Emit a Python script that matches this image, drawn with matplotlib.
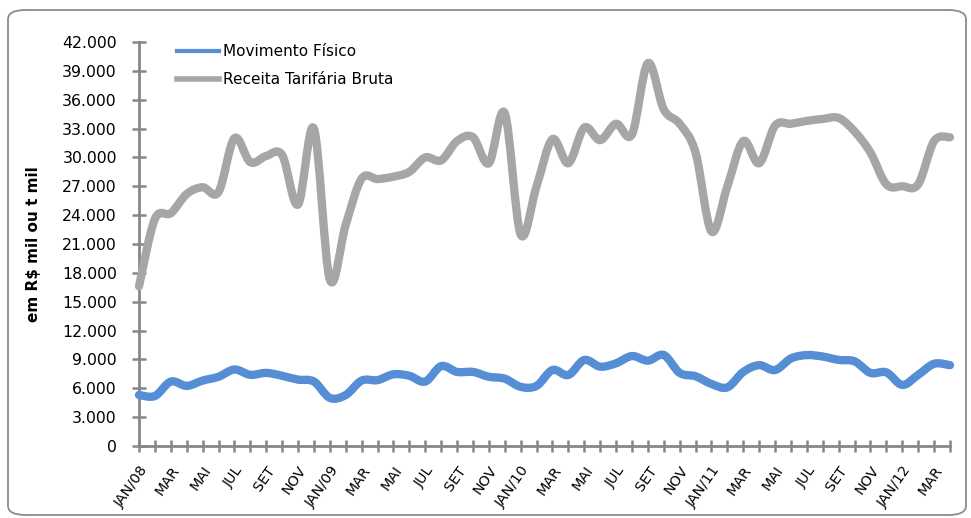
import matplotlib
matplotlib.use("Agg")
import matplotlib.pyplot as plt
from matplotlib.path import Path
from matplotlib.patches import PathPatch, FancyBboxPatch
from matplotlib.lines import Line2D
import numpy as np

# ---------------- data ----------------
months_pt = ["JAN", "FEV", "MAR", "ABR", "MAI", "JUN",
             "JUL", "AGO", "SET", "OUT", "NOV", "DEZ"]
years = ["08", "09", "10", "11", "12"]
categories = []
for y in years:
    for m in months_pt:
        categories.append(m + "/" + y if m == "JAN" else m)
categories = categories[:52]  # JAN/08 .. ABR/12

movimento_fisico = [5300, 5200, 6700, 6250, 6800, 7200, 7950, 7400, 7600, 7300,
                    6900, 6700, 5000, 5300, 6800, 6850, 7450, 7300, 6700, 8300,
                    7700, 7700, 7200, 7000, 6150, 6250, 7900, 7380, 8940, 8250,
                    8600, 9350, 8870, 9460, 7600, 7250, 6450, 6100, 7700, 8400,
                    7900, 9100, 9450, 9300, 8950, 8800, 7600, 7650, 6350, 7400,
                    8550, 8400]
receita_bruta = [16600, 23600, 24200, 26200, 26900, 26400, 32000, 29500, 30150, 30250,
                 25100, 33000, 17300, 23000, 27800, 27750, 28000, 28500, 30000, 29700,
                 31700, 32100, 29400, 34600, 22000, 27000, 31900, 29400, 33100, 31800,
                 33500, 32400, 39800, 35000, 33500, 30500, 22300, 27000, 31700, 29400,
                 33300, 33500, 33800, 34000, 34100, 32700, 30500, 27200, 27000, 27200,
                 31700, 32100]

series_names = ["Movimento Físico", "Receita Tarifária Bruta"]
series_colors = ["#558ED5", "#A6A6A6"]

y_ticks = list(range(0, 42001, 3000))


def fmt_br(v):
    return f"{v:,}".replace(",", ".")


def smooth_path(xs, ys):
    """Excel-style smoothed line as cubic Bezier path (data coords)."""
    pts = np.column_stack([xs, ys]).astype(float)
    n = len(pts)
    verts = [pts[0]]
    codes = [Path.MOVETO]
    for i in range(n - 1):
        p0 = pts[i - 1] if i > 0 else pts[i]
        p1 = pts[i]
        p2 = pts[i + 1]
        p3 = pts[i + 2] if i + 2 < n else pts[i + 1]
        c1 = p1 + (p2 - p0) / 6.0
        c2 = p2 - (p3 - p1) / 6.0
        verts += [c1, c2, p2]
        codes += [Path.CURVE4, Path.CURVE4, Path.CURVE4]
    return Path(verts, codes)


plt.rcParams["font.family"] = ["DejaVu Sans"]

W, H = 971, 518
fig = plt.figure(figsize=(W / 100, H / 100), dpi=100)

ax = fig.add_axes([139 / W, (H - 446) / H, 811 / W, 404 / H])
ax.set_facecolor("none")

x = np.arange(len(categories))
line_widths = [6.0, 6.0]
for vals, col, lw in zip([receita_bruta, movimento_fisico],
                         [series_colors[1], series_colors[0]],
                         [line_widths[1], line_widths[0]]):
    patch = PathPatch(smooth_path(x, vals), facecolor="none", edgecolor=col,
                      linewidth=lw, capstyle="round", joinstyle="round",
                      clip_on=False, zorder=3)
    ax.add_patch(patch)

ax.set_xlim(0, len(categories) - 1)
ax.set_ylim(0, 42000)

ax.set_yticks(y_ticks)
ax.set_yticklabels([fmt_br(v) for v in y_ticks], fontsize=11.3, color="black")
ax.set_xticks(x)
ax.set_xticklabels([c if i % 2 == 0 else "" for i, c in enumerate(categories)],
                   fontsize=10.3, rotation=55, ha="right", rotation_mode="anchor")

for s in ["top", "right"]:
    ax.spines[s].set_visible(False)
for s in ["left", "bottom"]:
    ax.spines[s].set_color("#878787")
    ax.spines[s].set_linewidth(2.0)

ax.tick_params(axis="y", direction="inout", length=10, width=1.8,
               color="#878787", pad=11)
ax.tick_params(axis="x", direction="inout", length=9, width=1.8,
               color="#878787", pad=8)

ax.set_ylabel("em R$ mil ou t mil", fontsize=11, fontweight="bold")
ax.yaxis.set_label_coords(-(139 - 41) / 811, 0.5)

handles = [Line2D([], [], color=series_colors[0], linewidth=3.0),
           Line2D([], [], color=series_colors[1], linewidth=4.0)]
leg = ax.legend(handles, series_names, loc="upper left",
                bbox_to_anchor=((177 - 139) / 811, (446 - 44) / 404),
                frameon=False, fontsize=11, handlelength=2.75,
                handletextpad=0.28, borderpad=0, borderaxespad=0,
                labelspacing=0.85)

# rounded chart border
border = FancyBboxPatch((8 / W, 3 / H), (958 / W), (505 / H),
                        boxstyle="round,pad=0,rounding_size=0.018",
                        transform=fig.transFigure, facecolor="none",
                        edgecolor="#8C8C8C", linewidth=1.3, zorder=5)
fig.patches.append(border)

fig.savefig("out.png", dpi=100)
